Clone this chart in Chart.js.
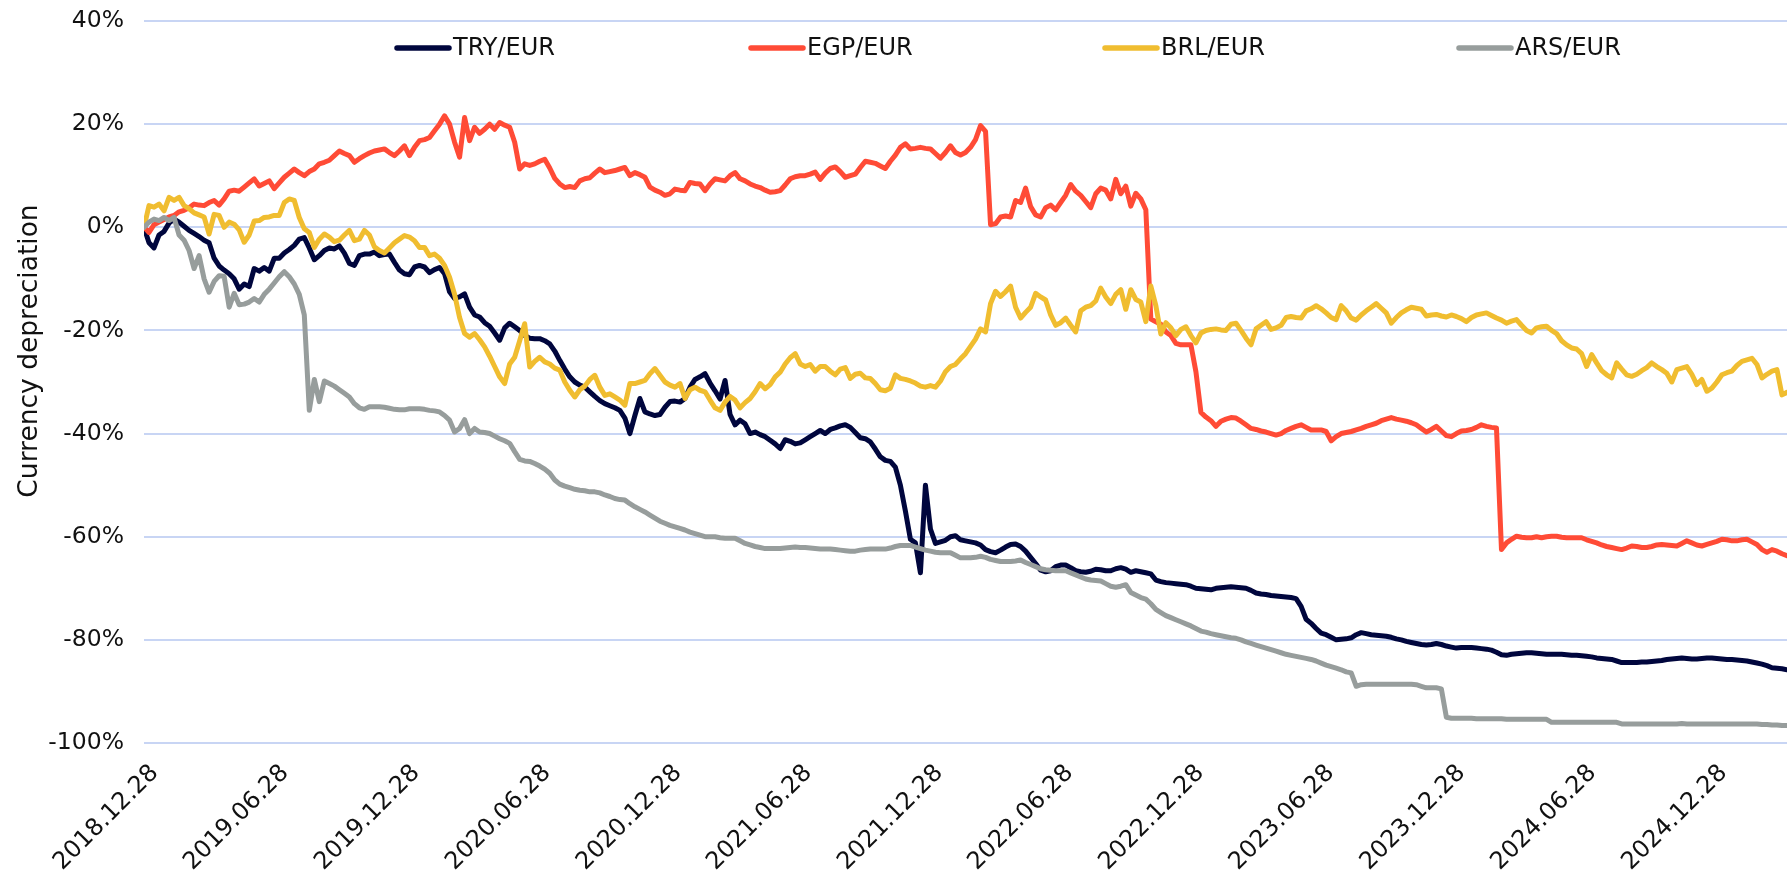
<!DOCTYPE html>
<html>
<head>
<meta charset="utf-8">
<title>Currency depreciation vs EUR</title>
<script src="https://cdn.jsdelivr.net/npm/chart.js@4.4.1/dist/chart.umd.min.js"></script>
<style>
  html, body { margin: 0; padding: 0; background: #ffffff; }
  #wrap { width: 1787px; height: 878px; }
</style>
</head>
<body>
<div id="wrap"><canvas id="chart" width="1787" height="878"></canvas></div>
<script>
// weekly samples, first one on 2018-12-28
const startDate = [2018, 12, 28];
const stepDays = 7;

const tickLabels = [
  "2018.12.28", "2019.06.28", "2019.12.28", "2020.06.28", "2020.12.28",
  "2021.06.28", "2021.12.28", "2022.06.28", "2022.12.28", "2023.06.28",
  "2023.12.28", "2024.06.28", "2024.12.28"
];

const seriesNames = ["TRY/EUR", "EGP/EUR", "BRL/EUR", "ARS/EUR"];
const seriesColors = ["#00063d", "#ff4b36", "#f0bd30", "#979d9c"];

// values in % vs start
const tryEur = [
  0, -3, -4, -1.5, -0.8, 0.8, 1.6, 1, 0.2, -0.6,
  -1.2, -1.8, -2.5, -3, -6, -7.5, -8.3, -9, -10, -12,
  -11, -11.5, -8, -8.5, -7.8, -8.5, -6, -6, -5, -4.3,
  -3.5, -2.3, -2, -4, -6.3, -5.5, -4.5, -4, -4.2, -3.6,
  -5, -7, -7.4, -5.5, -5.2, -5.2, -4.8, -5.5, -5.3, -5.2,
  -6.8, -8.3, -9, -9.2, -7.7, -7.4, -7.7, -8.8, -8.2, -7.8,
  -9, -12.5, -13.8, -13.5, -12.9, -15.5, -17, -17.4, -18.5, -19.2,
  -20.5, -21.9, -19.5, -18.6, -19.3, -20, -21, -21.5, -21.6, -21.6,
  -22, -22.6, -24, -25.8, -27.5, -29, -30, -30.6, -31, -31.9,
  -32.8, -33.6, -34.2, -34.6, -35, -35.5, -37, -40, -36.5, -33.2,
  -35.8, -36.2, -36.5, -36.3, -34.9, -33.8, -33.7, -33.9, -33.2, -31,
  -29.5, -29, -28.4, -30.2, -31.7, -33.3, -29.7, -36.3, -38.3, -37.4,
  -38.1, -40, -39.7, -40.2, -40.6, -41.3, -42, -42.9, -41.2, -41.5,
  -42, -41.8, -41.2, -40.6, -40, -39.4, -40, -39.2, -38.9, -38.5,
  -38.3, -38.8, -39.8, -40.8, -41, -41.6, -43, -44.5, -45.2, -45.4,
  -46.5, -50, -55, -60.5, -61.2, -67, -50, -58.5, -61.3, -61,
  -60.7, -60, -59.8, -60.6, -60.8, -61, -61.2, -61.6, -62.5, -62.9,
  -63.1, -62.6, -62, -61.5, -61.4, -61.9, -62.8, -64, -65.2, -66.5,
  -66.8, -66.6, -65.8, -65.5, -65.5, -66, -66.6, -66.8, -66.9, -66.7,
  -66.3, -66.4, -66.6, -66.6, -66.2, -66, -66.3, -66.9, -66.6, -66.8,
  -67, -67.2, -68.4, -68.7, -68.9, -69, -69.1, -69.2, -69.3, -69.6,
  -70, -70.1, -70.2, -70.3, -70, -69.9, -69.8, -69.7, -69.8, -69.9,
  -70, -70.4, -70.9, -71.1, -71.2, -71.4, -71.5, -71.6, -71.7, -71.8,
  -72, -73.5, -76, -76.8, -77.8, -78.7, -79, -79.5, -80, -79.9,
  -79.8, -79.6, -79, -78.6, -78.8, -79, -79.1, -79.2, -79.3, -79.5,
  -79.8, -80, -80.3, -80.5, -80.7, -80.9, -81, -80.9, -80.7, -80.9,
  -81.2, -81.4, -81.6, -81.5, -81.5, -81.5, -81.6, -81.7, -81.8, -82,
  -82.4, -82.9, -83, -82.8, -82.7, -82.6, -82.5, -82.5, -82.6, -82.7,
  -82.8, -82.8, -82.8, -82.8, -82.9, -83, -83, -83.1, -83.2, -83.3,
  -83.5, -83.6, -83.7, -83.8, -84.1, -84.4, -84.4, -84.4, -84.4, -84.3,
  -84.3, -84.2, -84.1, -84, -83.8, -83.7, -83.6, -83.5, -83.6, -83.7,
  -83.7, -83.6, -83.5, -83.5, -83.6, -83.7, -83.8, -83.8, -83.9, -84,
  -84.1, -84.3, -84.5, -84.7, -85, -85.4, -85.5, -85.6, -85.8
];

const egpEur = [
  0, -1, 0.5, 1, 1.5, 2, 2.3, 3, 3.3, 3.8,
  4.5, 4.3, 4.2, 4.8, 5.2, 4.3, 5.5, 7, 7.2, 7,
  7.8, 8.6, 9.4, 8, 8.5, 9, 7.5, 8.6, 9.7, 10.5,
  11.3, 10.6, 10, 10.8, 11.3, 12.3, 12.6, 13, 13.9, 14.8,
  14.3, 13.9, 12.6, 13.3, 13.9, 14.4, 14.8, 15, 15.2, 14.5,
  13.9, 14.8, 15.8, 13.9, 15.5, 16.8, 17, 17.4, 18.7, 20,
  21.6, 20, 16.5, 13.6, 21.3, 16.8, 19.4, 18.2, 19, 20,
  19, 20.3, 19.8, 19.4, 16.5, 11.3, 12.3, 12, 12.3, 12.8,
  13.2, 11.5, 9.5, 8.4, 7.7, 7.9, 7.7, 9, 9.4, 9.6,
  10.5, 11.3, 10.6, 10.8, 11, 11.3, 11.6, 10, 10.6, 10.2,
  9.7, 7.8, 7.2, 6.8, 6.2, 6.5, 7.4, 7.2, 7.1, 8.7,
  8.5, 8.4, 7.1, 8.4, 9.4, 9.2, 9, 10, 10.6, 9.4,
  9, 8.4, 8, 7.7, 7.2, 6.8, 6.9, 7.1, 8.2, 9.4,
  9.8, 10, 10, 10.3, 10.7, 9.3, 10.5, 11.4, 11.7, 10.8,
  9.7, 10, 10.3, 11.6, 12.8, 12.6, 12.4, 11.9, 11.4, 12.8,
  14, 15.5, 16.2, 15.2, 15.3, 15.5, 15.3, 15.2, 14.3, 13.4,
  14.5, 15.8, 14.5, 14, 14.5, 15.5, 17, 19.7, 18.6, 0.5,
  0.7, 2, 2.2, 2, 5.2, 4.8, 7.6, 4, 2.4, 2,
  3.8, 4.3, 3.4, 4.8, 6.2, 8.3, 7, 6.2, 5, 3.8,
  6.5, 7.6, 7.2, 5.5, 9.3, 6.5, 8, 4.1, 6.6, 5.5,
  3.4, -17.8, -18.3, -18.8, -20.3, -21, -22.5, -22.8, -22.8, -22.8,
  -28, -35.9, -36.8, -37.5, -38.6, -37.6, -37.2, -36.9, -37, -37.6,
  -38.3, -39, -39.2, -39.5, -39.7, -40, -40.3, -40, -39.4, -39,
  -38.6, -38.3, -38.8, -39.3, -39.3, -39.3, -39.6, -41.4, -40.6, -40,
  -39.8, -39.6, -39.3, -39, -38.6, -38.3, -38, -37.5, -37.2, -36.9,
  -37.2, -37.4, -37.6, -37.9, -38.3, -39, -39.7, -39.2, -38.6, -39.5,
  -40.4, -40.6, -40, -39.5, -39.4, -39.2, -38.8, -38.3, -38.6, -38.8,
  -38.9, -62.5, -61.2, -60.5, -59.9, -60.1, -60.2, -60.2, -60, -60.2,
  -60, -59.9, -59.9, -60.1, -60.2, -60.2, -60.2, -60.2, -60.6, -60.9,
  -61.2, -61.6, -61.9, -62.1, -62.3, -62.5, -62.2, -61.8, -61.9, -62.1,
  -62.1, -61.9, -61.6, -61.5, -61.6, -61.7, -61.8, -61.3, -60.8, -61.2,
  -61.6, -61.8, -61.5, -61.2, -60.9, -60.5, -60.6, -60.8, -60.8, -60.6,
  -60.5, -61, -61.5, -62.5, -63, -62.5, -62.8, -63.3, -63.7
];

const brlEur = [
  0, 4.2, 3.9, 4.5, 3.2, 5.8, 5.2, 5.8, 4.2, 3.6,
  2.8, 2.4, 2, -1.3, 2.5, 2.3, 0, 1, 0.6, -0.5,
  -2.9, -1.5, 1.2, 1.3, 1.9, 2, 2.3, 2.3, 4.8, 5.5,
  5.2, 1.9, -0.3, -1, -3.9, -2.3, -1.3, -1.9, -2.8, -2.5,
  -1.5, -0.6, -2.6, -2.3, -0.6, -1.5, -3.8, -4.5, -5, -4,
  -3, -2.3, -1.6, -1.9, -2.6, -3.9, -3.9, -5.5, -5.2, -6,
  -7.4, -9.7, -13, -17.5, -20.6, -21.3, -20.6, -21.8, -23.2, -25,
  -27, -29, -30.3, -26.5, -25.2, -22, -18.7, -27.1, -26, -25.2,
  -26.1, -26.5, -27.3, -27.7, -30, -31.6, -32.9, -31.5, -30.8, -29.5,
  -28.7, -31, -32.6, -32.3, -32.9, -33.5, -34.5, -30.3, -30.3, -30,
  -29.7, -28.4, -27.4, -28.7, -30, -30.6, -31, -30.3, -33.2, -31.5,
  -31, -31.6, -31.9, -33.5, -35, -35.5, -33.9, -32.8, -33.5, -35,
  -34, -33.2, -31.9, -30.3, -31.3, -30.5, -29, -28.1, -26.5, -25.3,
  -24.5, -26.5, -27, -26.6, -27.9, -27, -27, -27.9, -28.6, -27.5,
  -27.2, -29.3, -28.5, -28.3, -29.2, -29.3, -30.3, -31.5, -31.7, -31.2,
  -28.6, -29.3, -29.5, -29.8, -30.2, -30.8, -31, -30.7, -31, -29.8,
  -28, -27, -26.6, -25.5, -24.5, -23.1, -21.7, -19.7, -20.3, -14.8,
  -12.4, -13.4, -12.5, -11.4, -15.5, -17.6, -16.5, -15.5, -12.8, -13.5,
  -14.1, -17, -19, -18.5, -17.6, -19, -20.3, -16.2, -15.5, -15.2,
  -14.3, -11.8, -13.5, -14.8, -13, -12.1, -15.9, -12.1, -14, -14.5,
  -18.3, -11.4, -15.2, -20.7, -18.5, -19.5, -21, -19.8, -19.3, -21,
  -22.4, -20.5, -20, -19.8, -19.7, -19.9, -20, -18.8, -18.6, -20,
  -21.5, -22.8, -19.7, -19, -18.3, -19.8, -19.5, -19, -17.5, -17.3,
  -17.5, -17.6, -16.2, -15.8, -15.2, -15.8, -16.6, -17.5, -17.9, -15.2,
  -16.2, -17.6, -18, -17, -16.2, -15.5, -14.8, -15.7, -16.6, -18.6,
  -17.5, -16.6, -16, -15.5, -15.7, -15.9, -17.2, -17, -16.9, -17.2,
  -17.4, -17, -17.3, -17.7, -18.3, -17.5, -17, -16.8, -16.6, -17.1,
  -17.6, -18, -18.6, -18.2, -17.9, -19, -20, -20.5, -19.5, -19.3,
  -19.2, -20, -20.6, -22, -22.8, -23.4, -23.6, -24.5, -27, -24.7,
  -26.3, -27.8, -28.6, -29.2, -26.3, -27.5, -28.6, -28.9, -28.5, -27.8,
  -27.2, -26.3, -27, -27.6, -28.3, -30, -27.6, -27.3, -27, -28.5,
  -30.5, -29.5, -31.8, -31.2, -30, -28.6, -28.2, -27.9, -26.8, -26,
  -25.7, -25.4, -26.6, -29.2, -28.5, -27.9, -27.6, -32.5, -32
];

const arsEur = [
  0, 1, 1.6, 1.3, 1.9, 1.3, 1.9, -1.5, -2.5, -4.5,
  -8, -5.5, -10, -12.6, -10.5, -9.4, -9.5, -15.5, -12.8, -15,
  -14.9, -14.5, -13.8, -14.5, -13, -12, -10.8, -9.6, -8.6, -9.6,
  -11, -13, -17, -35.5, -29.5, -33.8, -29.8, -30.3, -30.8, -31.5,
  -32.2, -32.9, -34.2, -35, -35.3, -34.8, -34.8, -34.8, -34.9, -35.1,
  -35.3, -35.4, -35.4, -35.2, -35.2, -35.2, -35.3, -35.5, -35.6, -35.8,
  -36.5, -37.4, -39.7, -39, -37.3, -40, -39, -39.7, -39.8, -40,
  -40.5, -41, -41.4, -41.9, -43.5, -45, -45.3, -45.4, -45.8, -46.3,
  -46.9, -47.7, -49, -49.8, -50.2, -50.5, -50.8, -51, -51.1, -51.3,
  -51.3, -51.5, -51.9, -52.2, -52.6, -52.8, -52.9, -53.6, -54.2, -54.7,
  -55.2, -55.8, -56.4, -57, -57.4, -57.8, -58.1, -58.4, -58.7, -59.1,
  -59.4, -59.7, -60, -60, -60, -60.2, -60.3, -60.3, -60.3, -60.8,
  -61.3, -61.6, -61.9, -62.1, -62.3, -62.3, -62.3, -62.3, -62.2, -62.1,
  -62, -62.1, -62.1, -62.2, -62.3, -62.4, -62.4, -62.4, -62.5, -62.6,
  -62.7, -62.8, -62.8, -62.6, -62.5, -62.4, -62.4, -62.4, -62.4, -62.2,
  -61.9, -61.7, -61.7, -61.7, -62, -62.3, -62.6, -62.8, -63, -63.1,
  -63.1, -63.1, -63.6, -64.1, -64.1, -64.1, -64, -63.8, -64, -64.4,
  -64.6, -64.8, -64.8, -64.8, -64.7, -64.5, -65, -65.4, -65.8, -66.2,
  -66.4, -66.5, -66.6, -66.6, -66.6, -67, -67.4, -67.8, -68.2, -68.4,
  -68.5, -68.6, -69.1, -69.6, -69.8, -69.6, -69.3, -70.8, -71.3, -71.8,
  -72.1, -73, -74.1, -74.7, -75.3, -75.7, -76.1, -76.5, -76.9, -77.3,
  -77.8, -78.3, -78.5, -78.8, -79, -79.2, -79.4, -79.6, -79.7, -80,
  -80.4, -80.7, -81, -81.3, -81.6, -81.9, -82.2, -82.5, -82.8, -83,
  -83.2, -83.4, -83.6, -83.8, -84.1, -84.5, -84.9, -85.2, -85.5, -85.8,
  -86.2, -86.4, -89, -88.7, -88.6, -88.6, -88.6, -88.6, -88.6, -88.6,
  -88.6, -88.6, -88.6, -88.6, -88.7, -89, -89.3, -89.3, -89.3, -89.5,
  -95, -95.2, -95.2, -95.2, -95.2, -95.2, -95.3, -95.3, -95.3, -95.3,
  -95.3, -95.3, -95.4, -95.4, -95.4, -95.4, -95.4, -95.4, -95.4, -95.4,
  -95.4, -96, -96, -96, -96, -96, -96, -96, -96, -96,
  -96, -96, -96, -96, -96, -96.3, -96.3, -96.3, -96.3, -96.3,
  -96.3, -96.3, -96.3, -96.3, -96.3, -96.3, -96.3, -96.2, -96.3, -96.3,
  -96.3, -96.3, -96.3, -96.3, -96.3, -96.3, -96.3, -96.3, -96.3, -96.3,
  -96.3, -96.3, -96.3, -96.4, -96.4, -96.5, -96.5, -96.6, -96.6
];

const allSeries = [tryEur, egpEur, brlEur, arsEur];

// day offset of a "yyyy.mm.dd" label from the first sample
function dayOffset(label) {
  const p = label.split(".").map(Number);
  const t0 = Date.UTC(startDate[0], startDate[1] - 1, startDate[2]);
  return Math.round((Date.UTC(p[0], p[1] - 1, p[2]) - t0) / 86400000);
}
const tickDays = tickLabels.map(dayOffset);
const lastDay = (tryEur.length - 1) * stepDays;

const fontFamily = "'DejaVu Sans', Verdana, sans-serif";
const textColor = "#111111";
const gridColor = "#c8d5f4";

// legend drawn inside the plot, under the 40% line
const insideLegend = {
  id: "insideLegend",
  afterDraw(chart) {
    const ctx = chart.ctx;
    ctx.save();
    ctx.font = "24px " + fontFamily;
    ctx.textBaseline = "middle";
    ctx.textAlign = "left";
    ctx.lineCap = "round";
    chart.data.datasets.forEach((ds, k) => {
      const x = 397 + k * 354;
      const y = 48;
      ctx.strokeStyle = ds.borderColor;
      ctx.lineWidth = 5.5;
      ctx.beginPath();
      ctx.moveTo(x, y);
      ctx.lineTo(x + 52, y);
      ctx.stroke();
      ctx.fillStyle = textColor;
      ctx.fillText(ds.label, x + 56, y + 1);
    });
    ctx.restore();
  }
};

// y axis title, placed like the original
const yTitle = {
  id: "yTitle",
  afterDraw(chart) {
    const ctx = chart.ctx;
    ctx.save();
    ctx.translate(30, 351);
    ctx.rotate(-Math.PI / 2);
    ctx.font = "26.5px " + fontFamily;
    ctx.fillStyle = textColor;
    ctx.textAlign = "center";
    ctx.textBaseline = "middle";
    ctx.fillText("Currency depreciation", 0, 0);
    ctx.restore();
  }
};

const datasets = allSeries.map((vals, k) => ({
  label: seriesNames[k],
  data: vals.map((v, i) => ({ x: i * stepDays, y: v })),
  borderColor: seriesColors[k],
  backgroundColor: seriesColors[k],
  borderWidth: 5,
  pointRadius: 0,
  tension: 0,
  borderJoinStyle: "round",
  borderCapStyle: "round",
  order: 4 - k   // first series underneath, like the original
}));

new Chart(document.getElementById("chart"), {
  type: "line",
  data: { datasets: datasets },
  plugins: [insideLegend, yTitle],
  options: {
    responsive: false,
    animation: false,
    layout: { padding: { top: 21, left: 0, right: 0, bottom: 0 } },
    plugins: {
      legend: { display: false },
      tooltip: { enabled: false }
    },
    scales: {
      x: {
        type: "linear",
        min: 0,
        max: lastDay,
        grid: { display: false },
        border: { display: false },
        afterBuildTicks: (scale) => {
          scale.ticks = tickDays.map((d) => ({ value: d }));
        },
        afterFit: (scale) => { scale.height = 135; },
        ticks: {
          autoSkip: false,
          minRotation: 45,
          maxRotation: 45,
          padding: 8,
          labelOffset: 11,
          color: textColor,
          font: { family: fontFamily, size: 24 },
          callback: (value) => {
            const k = tickDays.indexOf(value);
            return k >= 0 ? tickLabels[k] : "";
          }
        }
      },
      y: {
        min: -100,
        max: 40,
        border: { display: false },
        grid: { color: gridColor, lineWidth: 2, drawTicks: false },
        afterFit: (scale) => {
          scale.width = 144;
          // tick padding would otherwise push the plot top down
          scale.paddingTop = 10;
          scale.paddingBottom = 10;
        },
        ticks: {
          stepSize: 20,
          padding: 20,
          color: textColor,
          font: { family: fontFamily, size: 23.5 },
          callback: (v) => v + "%"
        }
      }
    }
  }
});
</script>
</body>
</html>
